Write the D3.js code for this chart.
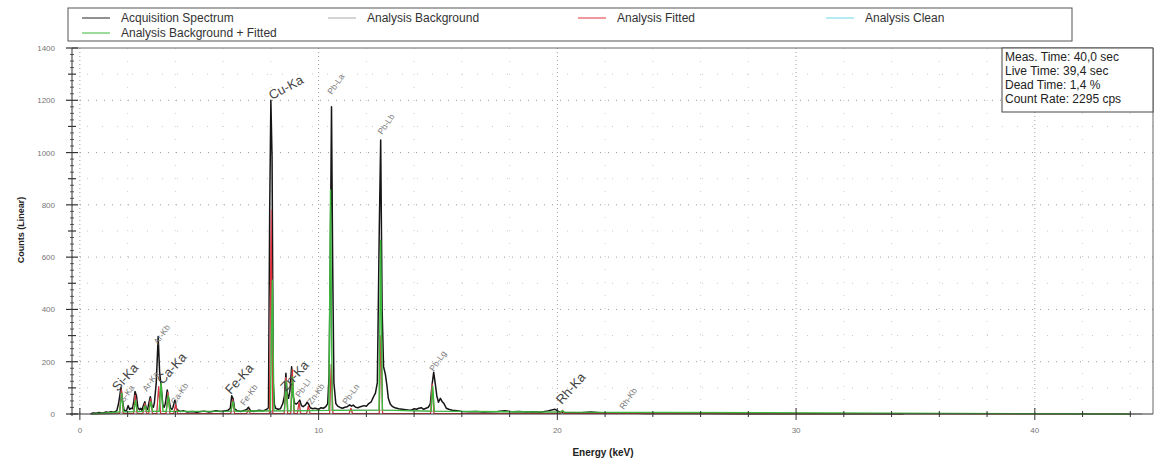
<!DOCTYPE html>
<html><head><meta charset="utf-8">
<script src="https://cdn.jsdelivr.net/npm/d3@7"></script>
<style>body{margin:0;background:#fff;}svg{display:block;}</style>
</head><body><svg id="c" width="1158" height="464"></svg>
<script>
// ---------- DATA ----------
const yTicks = [0,200,400,600,800,1000,1200,1400];
const xTicks = [0,10,20,30,40];
const legendNames = ["Acquisition Spectrum","Analysis Background","Analysis Fitted","Analysis Clean","Analysis Background + Fitted"];
const infoLines = ["Meas. Time: 40,0 sec","Live Time: 39,4 sec","Dead Time: 1,4 %","Count Rate: 2295 cps"];

// Acquisition spectrum (keV, counts)
const acqE = [0.45,0.55,0.7,0.8,0.9,1.0,1.1,1.2,1.3,1.4,1.5,1.55,1.62,1.68,1.72,1.78,1.85,1.95,2.02,2.08,2.15,2.2,2.26,2.31,2.37,2.43,2.5,2.55,2.6,2.65,2.72,2.78,2.84,2.88,2.95,3.02,3.08,3.12,3.2,3.28,3.34,3.4,3.48,3.53,3.58,3.66,3.72,3.8,3.86,3.9,3.98,4.05,4.12,4.2,4.35,4.5,4.7,4.9,5.0,5.2,5.4,5.5,5.7,5.9,6.1,6.2,6.3,6.36,6.42,6.48,6.6,6.75,6.9,7.0,7.06,7.15,7.3,7.5,7.65,7.8,7.9,7.95,8.0,8.05,8.1,8.15,8.2,8.3,8.4,8.5,8.57,8.63,8.68,8.74,8.8,8.87,8.93,9.0,9.07,9.15,9.21,9.28,9.35,9.45,9.52,9.58,9.65,9.75,9.85,10.0,10.1,10.2,10.3,10.38,10.44,10.49,10.54,10.59,10.64,10.72,10.8,10.9,11.0,11.1,11.2,11.3,11.38,11.45,11.55,11.65,11.75,11.9,12.0,12.1,12.2,12.3,12.38,12.46,12.54,12.6,12.66,12.72,12.8,12.86,12.92,13.0,13.1,13.2,13.35,13.5,13.65,13.8,13.9,14.0,14.1,14.2,14.3,14.4,14.5,14.6,14.68,14.75,14.82,14.88,14.95,15.02,15.1,15.17,15.25,15.35,15.45,15.6,15.8,16.0,16.3,16.6,16.9,17.2,17.5,17.8,18.1,18.4,18.7,19.0,19.3,19.6,19.9,20.05,20.12,20.2,20.28,20.4,20.6,21.0,21.4,21.8,22.2,22.5,22.7,22.9,23.3,23.8,24.5,25.5,26.5,27.5,28.5,29.5,30.5,31.5,32.5,33.5,34.5,35.5,36.5,37.5,38.5,40,41.5,43,44.5];
const acqC = [0,4,3,6,4,5,8,6,9,7,10,14,40,75,102,55,14,12,32,18,22,20,48,86,70,24,16,22,14,30,47,22,18,38,66,30,26,42,120,296,160,110,30,26,40,92,60,22,18,26,53,20,14,10,12,8,10,7,9,11,8,9,12,10,12,14,22,70,58,20,12,10,14,18,26,12,10,14,12,16,24,770,1200,980,120,35,22,18,20,40,70,156,80,60,90,181,70,40,38,45,53,32,28,35,45,38,24,20,22,18,24,22,28,40,150,600,1175,563,120,40,30,25,22,26,28,35,30,34,26,24,28,32,30,40,46,66,80,120,700,1048,400,181,150,110,60,38,28,24,20,18,16,14,15,20,18,22,24,18,22,26,40,110,160,120,70,45,60,48,40,22,18,14,12,10,9,10,8,9,10,12,9,10,8,9,7,12,18,10,7,6,5,4,5,5,8,5,4,4,3,3,3,2,2,2,2,1,1,1,1,1,1,1,0];

// Analysis Fitted (keV, counts)
const fitE = [0.5,1.66,1.74,1.82,2.25,2.32,2.40,2.64,2.72,2.80,2.88,2.96,3.04,3.22,3.30,3.38,3.61,3.69,3.77,3.93,4.01,4.09,6.32,6.40,6.48,6.98,7.06,7.14,7.94,8.01,8.08,8.56,8.63,8.70,8.83,8.90,8.97,9.11,9.18,9.25,9.50,9.57,9.64,10.46,10.53,10.60,11.28,11.35,11.42,12.54,12.61,12.68,14.69,14.76,14.83,20.13,20.21,20.29,22.65,22.72,22.79,44];
const fitC = [0,2,92,2,2,72,2,2,40,2,2,58,2,2,105,2,2,82,2,2,36,2,2,55,2,2,15,2,2,780,2,2,140,2,2,170,2,2,45,2,2,30,2,2,190,2,2,22,2,2,300,2,2,115,2,2,14,2,2,5,2,0];

// Analysis Clean (same peaks as the fitted curve, background removed)
const cleanE = fitE;
const cleanC = fitC;

// Analysis Background + Fitted (keV, counts)
const bgfE = [0.5,1.67,1.75,1.83,2.26,2.33,2.41,2.65,2.73,2.81,2.89,2.97,3.05,3.32,3.40,3.48,3.62,3.70,3.78,6.33,6.41,6.49,7.98,8.06,8.13,8.57,8.64,8.71,8.84,8.91,8.98,10.43,10.50,10.57,12.53,12.60,12.67,14.71,14.78,14.85,20.14,20.22,20.30,44];
const bgfC = [0,8,80,8,9,52,9,10,32,10,10,46,10,10,118,10,10,70,10,11,48,11,12,512,12,12,125,12,12,142,12,14,857,14,15,665,15,11,105,11,7,13,7,0];

// Analysis Background (keV, counts)
const bgE = [0.5,1,2,3,5,8,10,12,13,15,18,20,22,25,30,35,40,44.5];
const bgC = [0,4,8,10,9,12,14,15,14,10,8,7,5,4,2,1,1,0];

// Peak labels (line energy anchor, count anchor)
const bigLabels = ["Si-Ka","Ca-Ka","Fe-Ka","Cu-Ka","Zn-Ka","Rh-Ka"];
const bigE = [1.59,3.47,6.32,8.04,8.63,20.18];
const bigC = [84,111,73,1201,84,34];
const smallLabels = ["S-Ka","Ar-Ka","Ar-Kb","Ca-Kb","Fe-Kb","Pb-Ll","Zn-Kb","Pb-La","Pb-Ln","Pb-Lb","Pb-Lg","Rh-Kb"];
const smallE = [1.84,2.8,3.27,3.98,6.9,9.21,9.71,10.55,11.18,12.65,14.82,22.78];
const smallC = [42,84,264,34,31,61,34,1220,34,1067,161,15];

// ---------- CHART ----------
const svg = d3.select("#c");
const x = d3.scaleLinear().domain([-0.33, 44.95]).range([72, 1153]);
const y = d3.scaleLinear().domain([0, 1400]).range([414, 48]);
const font = "'Liberation Sans', Arial, sans-serif";

// grid
const g = svg.append("g");
g.selectAll(".gyMinor").data(d3.range(100,1400,200)).join("line")
  .attr("x1",72).attr("x2",1153).attr("y1",d=>y(d)).attr("y2",d=>y(d))
  .attr("stroke","#c8c8c8").attr("stroke-dasharray","1,14");
g.selectAll(".gyMajor").data(yTicks.slice(1,-1)).join("line")
  .attr("x1",72).attr("x2",1153).attr("y1",d=>y(d)).attr("y2",d=>y(d))
  .attr("stroke","#9a9a9a").attr("stroke-dasharray","1,7");
g.selectAll(".gxMinor").data(d3.range(2,45,2).filter(v=>v%10!==0)).join("line")
  .attr("x1",d=>x(d)).attr("x2",d=>x(d)).attr("y1",48).attr("y2",414)
  .attr("stroke","#cfcfcf").attr("stroke-dasharray","1,12");
g.selectAll(".gxMajor").data(xTicks).join("line")
  .attr("x1",d=>x(d)).attr("x2",d=>x(d)).attr("y1",48).attr("y2",414)
  .attr("stroke","#a0a0a0").attr("stroke-dasharray","1,3");

// frame
svg.append("line").attr("x1",72).attr("x2",1153).attr("y1",48).attr("y2",48).attr("stroke","#666");
svg.append("line").attr("x1",1153).attr("x2",1153).attr("y1",48).attr("y2",414).attr("stroke","#666");

// series
const line = (E,C)=> d3.line().x((d,i)=>x(E[i])).y((d,i)=>y(C[i]))(C);
const draw = (E,C,color,w)=> svg.append("path").attr("d",line(E,C)).attr("fill","none")
  .attr("stroke",color).attr("stroke-width",w).attr("stroke-linejoin","round");
draw(bgE,bgC,"#a8a8a8",1);
draw(acqE,acqC,"#151515",1.5);
draw(cleanE,cleanC,"#6fd6e6",1);
draw(fitE,fitC,"#e0303a",1.2);
draw(bgfE,bgfC,"#3cb83c",1.4);

// axes
const yAxis = svg.append("g");
yAxis.append("line").attr("x1",72).attr("x2",72).attr("y1",48).attr("y2",416).attr("stroke","#333");
yAxis.selectAll(".ym").data(d3.range(0,1401,25)).join("line")
  .attr("x1",d=> d%200===0?66:(d%100===0?68:70)).attr("x2",d=> d%200===0?78:(d%100===0?76:74))
  .attr("y1",d=>y(d)).attr("y2",d=>y(d)).attr("stroke","#333").attr("stroke-width",d=>d%100===0?1.2:0.8);
yAxis.selectAll("text").data(yTicks).join("text")
  .attr("x",55).attr("y",d=>y(d)+3).attr("text-anchor","end")
  .attr("font-family",font).attr("font-size",8).attr("fill","#777").text(d=>d);

const xAxis = svg.append("g");
xAxis.append("line").attr("x1",70).attr("x2",1153).attr("y1",414).attr("y2",414).attr("stroke","#333");
xAxis.selectAll(".xm").data(d3.range(0,45,2)).join("line")
  .attr("x1",d=>x(d)).attr("x2",d=>x(d))
  .attr("y1",d=> d%10===0?408:411).attr("y2",d=> d%10===0?420:417).attr("stroke","#333");
xAxis.selectAll("text").data(xTicks).join("text")
  .attr("x",d=>x(d)).attr("y",433).attr("text-anchor","middle")
  .attr("font-family",font).attr("font-size",8).attr("fill","#777").text(d=>d);

svg.append("text").attr("transform","translate(24,230) rotate(-90)").attr("text-anchor","middle")
  .attr("font-family",font).attr("font-size",9).attr("font-weight","bold").attr("fill","#222").text("Counts (Linear)");
svg.append("text").attr("x",603).attr("y",456).attr("text-anchor","middle")
  .attr("font-family",font).attr("font-size",10).attr("font-weight","bold").attr("fill","#222").text("Energy (keV)");

// peak labels
svg.append("g").selectAll("text").data(bigLabels).join("text")
  .attr("transform",(d,i)=>`translate(${x(bigE[i])},${y(bigC[i])}) rotate(${d==="Cu-Ka"?-28:-48})`)
  .attr("font-family",font).attr("font-size",13).attr("fill","#444").text(d=>d);
svg.append("g").selectAll("text").data(smallLabels).join("text")
  .attr("transform",(d,i)=>`translate(${x(smallE[i])},${y(smallC[i])}) rotate(${-55})`)
  .attr("font-family",font).attr("font-size",8.5).attr("fill","#777").text(d=>d);

// legend
const leg = svg.append("g");
leg.append("rect").attr("x",68).attr("y",8).attr("width",1004).attr("height",33)
  .attr("fill","#fff").attr("stroke","#555");
const legColors = ["#222","#aaa","#e0303a","#6fd6e6","#3cb83c"];
const legX = [82,328,578,826,82];
const legY = [18,18,18,18,33];
legendNames.forEach((n,i)=>{
  leg.append("line").attr("x1",legX[i]).attr("x2",legX[i]+28).attr("y1",legY[i]).attr("y2",legY[i])
    .attr("stroke",legColors[i]).attr("stroke-width",1);
  leg.append("text").attr("x",legX[i]+39).attr("y",legY[i]+4).attr("font-family",font)
    .attr("font-size",12).attr("fill","#333").text(n);
});

// info box
const info = svg.append("g");
info.append("rect").attr("x",1002).attr("y",48).attr("width",151).attr("height",64)
  .attr("fill","#fff").attr("stroke","#444");
info.selectAll("text").data(infoLines).join("text")
  .attr("x",1005).attr("y",(d,i)=>61+i*14).attr("font-family",font).attr("font-size",12)
  .attr("fill","#222").text(d=>d);
</script></body></html>
